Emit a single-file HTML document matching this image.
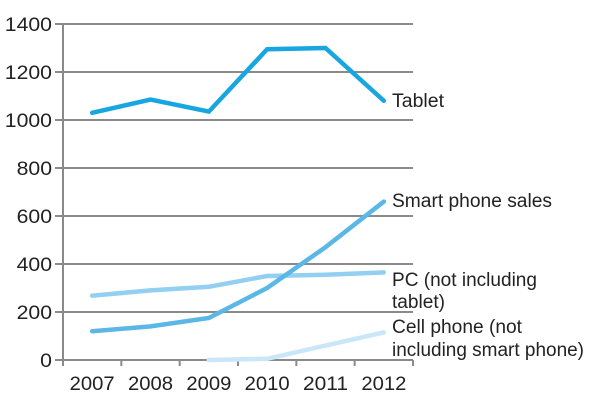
<!DOCTYPE html>
<html><head><meta charset="utf-8"><style>
html,body{margin:0;padding:0;background:#fff;}
svg text{font-family:"Liberation Sans",Arial,sans-serif;fill:#222;}
</style></head><body>
<svg id="chart" width="605" height="408" viewBox="0 0 605 408" xmlns="http://www.w3.org/2000/svg">
<g id="grid"></g>
<g id="yticks"></g>
<g id="xticks"></g>
<g id="series"></g>
<g id="labels" font-size="19">
<text x="392" y="107" textLength="52" lengthAdjust="spacingAndGlyphs">Tablet</text>
<text x="392" y="207" textLength="160" lengthAdjust="spacingAndGlyphs">Smart phone sales</text>
<text x="392" y="286" textLength="145" lengthAdjust="spacingAndGlyphs">PC (not including</text>
<text x="392" y="308" textLength="53" lengthAdjust="spacingAndGlyphs">tablet)</text>
<text x="392" y="333" textLength="130" lengthAdjust="spacingAndGlyphs">Cell phone (not</text>
<text x="392" y="356" textLength="192" lengthAdjust="spacingAndGlyphs">including smart phone)</text>
</g>
</svg>
<script>
const years = ["2007","2008","2009","2010","2011","2012"];
const yTicks = [0,200,400,600,800,1000,1200,1400];
const tablet = [1030,1085,1035,1295,1300,1080];
const smartphone = [120,140,175,300,470,660];
const pc = [268,290,305,350,355,365];
const cellphone = [null,null,0,5,60,115];

const NS="http://www.w3.org/2000/svg";
const x0=63, x1=413, y0=360, yTop=24;
const band=(x1-x0)/years.length;
const xPos=i=>x0+band*(i+0.5);
const yPos=v=>y0-(v/1400)*(y0-yTop);
function mk(tag,attrs,parent){const e=document.createElementNS(NS,tag);for(const k in attrs)e.setAttribute(k,attrs[k]);parent.appendChild(e);return e;}
const grid=document.getElementById('grid'),yt=document.getElementById('yticks'),xt=document.getElementById('xticks'),ser=document.getElementById('series');
yTicks.forEach(v=>{
  const l=mk('line',{x1:55,x2:413,y1:yPos(v),y2:yPos(v),stroke:'#8a8a8a','stroke-width':2},grid);
  
  
  const s=String(v);
  const t=mk('text',{x:52,y:yPos(v)+7,'text-anchor':'end','font-size':19,textLength:s.length*11.8,lengthAdjust:'spacingAndGlyphs'},yt);
  t.textContent=s;
  
  
});
const ax=mk('line',{x1:x0,x2:x0,y1:yTop,y2:y0+6,stroke:'#8a8a8a','stroke-width':2},yt);


for(let i=0;i<=years.length;i++){
  const tk=mk('line',{x1:x0+band*i,x2:x0+band*i,y1:y0,y2:y0+6,stroke:'#8a8a8a','stroke-width':2},xt);
  
  
}
years.forEach((y,i)=>{
  const t=mk('text',{x:xPos(i),y:y0+30,'text-anchor':'middle','font-size':19,textLength:45,lengthAdjust:'spacingAndGlyphs'},xt);
  t.textContent=y;
  
  
});
function line(data,color,name){
  const pts=[];data.forEach((v,i)=>{if(v!==null)pts.push(xPos(i)+','+yPos(v));});
  const p=mk('polyline',{points:pts.join(' '),fill:'none',stroke:color,'stroke-width':4.5,'stroke-linejoin':'miter','stroke-linecap':'round'},ser);
  
  
}
line(cellphone,'#c9e7f8','series-cellphone');
line(pc,'#92cff1','series-pc');
line(smartphone,'#5ab7e6','series-smartphone');
line(tablet,'#18a6e0','series-tablet');
</script>
</body></html>
